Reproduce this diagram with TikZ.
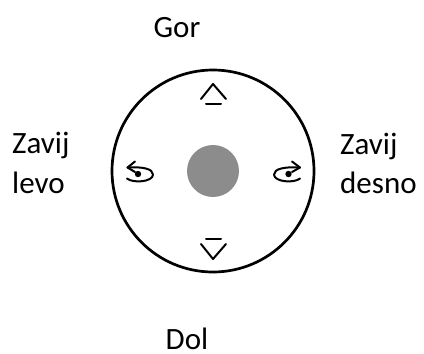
\documentclass[tikz,border=0pt]{standalone}
\usepackage{fontspec}
\setmainfont{Carlito}
\tikzset{
  lab/.style={font=\fontsize{31}{37}\selectfont, text=black, inner sep=0pt, align=left},
  ring/.style={draw=black, line width=2.7pt, fill=white},
  hub/.style={fill=black!45, draw=none},
  icon/.style={draw=black, line width=2pt, line cap=round, line join=round}
}
\begin{document}
\begin{tikzpicture}[x=1pt,y=-1pt]
\useasboundingbox (0,0) rectangle (424,354);
\fill[white] (0,0) rectangle (424,354);
\node[ring, circle, minimum size=202pt, inner sep=0pt] (dial) at (213,171) {};
\node[hub, circle, minimum size=52pt, inner sep=0pt] (centre) at (213,171) {};
\node[lab, anchor=base] (gor) at (177,37) {Gor};
\node[lab, anchor=base] (dol) at (187,349) {Dol};
\node[lab, anchor=base west] (zl) at (12,153.5) {Zavij};
\node[lab, anchor=base west] (l) at (12,193) {levo};
\node[lab, anchor=base west] (zd) at (340,154) {Zavij};
\node[lab, anchor=base west] (d) at (340,193) {desno};
% up
\draw[icon] (201,99) -- (213,84) -- (226,99);
\draw[icon] (206,104) -- (221,104);
% down
\draw[icon] (206,239) -- (221,239);
\draw[icon] (201,244) -- (213,259) -- (226,244);
% left
\draw[icon] (135,161.5) -- (127.5,167.5) -- (135,172);
\draw[icon] (127.5,167.5) .. controls (143,166.5) and (153,169) .. (153,174.5) .. controls (153,182) and (133,183.5) .. (127,178.5);
\fill (138,174) circle (3.2pt);
% right
\draw[icon] (292,161.5) -- (300,167.5) -- (292,172);
\draw[icon] (300,167.5) .. controls (284,166.5) and (274,169) .. (274,174.5) .. controls (274,182) and (294,183.5) .. (300,178.5);
\fill (288.5,174) circle (3.2pt);
\end{tikzpicture}
\end{document}
